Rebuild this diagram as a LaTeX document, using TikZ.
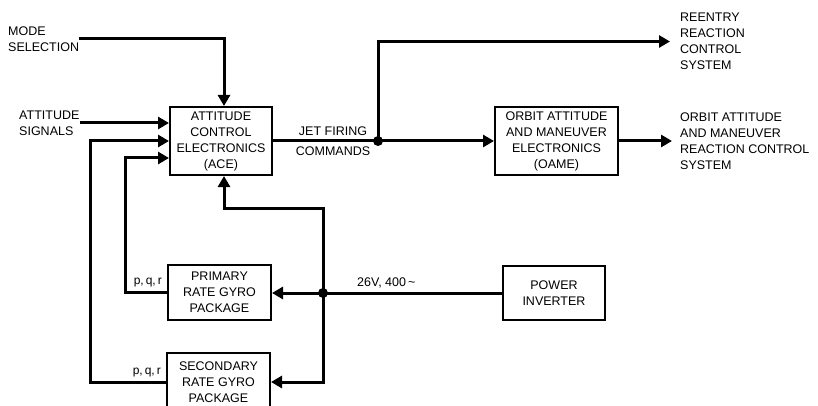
\documentclass[tikz,border=0pt]{standalone}
\usepackage{fontspec}
\setmainfont{Liberation Sans}
\usetikzlibrary{arrows.meta,positioning,calc}

\begin{document}
\begin{tikzpicture}[x=1pt,y=-1pt,
    box/.style={draw,line width=2pt,inner sep=0pt,align=center,font=\fontsize{12.5}{16}\selectfont},
    lbl/.style={inner sep=0pt,align=left,font=\fontsize{12.5}{16}\selectfont},
    pqr/.style={inner sep=0pt,font=\fontsize{12}{14}\selectfont},
    wire/.style={line width=3pt},
    sig/.style={wire,-{Triangle[length=11pt,width=12pt]}}]
    \useasboundingbox (0,0) rectangle (818,406);

    % blocks
    \node[box,minimum width=102pt,minimum height=68pt] (ace) at (221,141) {ATTITUDE\\CONTROL\\ELECTRONICS\\(ACE)};
    \node[box,minimum width=123pt,minimum height=68pt] (oame) at (556.5,141) {ORBIT ATTITUDE\\AND MANEUVER\\ELECTRONICS\\(OAME)};
    \node[box,minimum width=103pt,minimum height=55pt] (prim) at (219.5,292) {PRIMARY\\RATE GYRO\\PACKAGE};
    \node[box,minimum width=103pt,minimum height=58pt] (sec) at (218.5,382) {SECONDARY\\RATE GYRO\\PACKAGE};
    \node[box,minimum width=102pt,minimum height=54pt] (inv) at (554,293) {POWER\\INVERTER};

    % inputs and outputs
    \node[lbl,anchor=west] (mode) at (8,39) {MODE\\SELECTION};
    \node[lbl,anchor=west] (att) at (19,123) {ATTITUDE\\SIGNALS};
    \node[lbl,anchor=west] (rrcs) at (680,41.5) {REENTRY\\REACTION\\CONTROL\\SYSTEM};
    \node[lbl,anchor=west] (orcs) at (680,141) {ORBIT ATTITUDE\\AND MANEUVER\\REACTION CONTROL\\SYSTEM};

    % signal labels
    \node[lbl,anchor=south] (jet) at (333,136) {JET FIRING};
    \node[lbl,anchor=north] (cmd) at (333,147) {COMMANDS};
    \node[lbl,anchor=south west] (volt) at (357,288) {26V, 400\,\textasciitilde};
    \node[pqr,anchor=south east] (pqr1) at ([xshift=-5pt,yshift=5pt]prim.west) {p,\,q,\,r};
    \node[pqr,anchor=south east] (pqr2) at ([xshift=-5pt,yshift=5pt]sec.west) {p,\,q,\,r};

    % junctions
    \coordinate (jf) at (378,141);
    \coordinate (pj) at (323,293);

    % commands into the ACE
    \draw[sig] (mode.east) -| ([xshift=3pt]ace.north);
    \draw[sig] (att.east) -- (att.east -| ace.west);
    \draw[sig] (prim.west) -- ++(-42,0) |- ([yshift=-17pt]ace.west);
    \draw[sig] (sec.west) -- ++(-76,0) |- (ace.west);

    % jet firing commands
    \draw[wire] (ace.east) -- (jf);
    \draw[sig] (jf) |- ([xshift=-10pt]rrcs.west);
    \draw[sig] (jf) -- (oame.west);
    \draw[sig] (oame.east) -- ([xshift=-8pt]orcs.west);
    \fill (jf) circle (5pt);

    % 26V power
    \draw[wire] (inv.west) -- (pj);
    \draw[sig] (pj) -- (pj -| prim.east);
    \draw[sig] (pj) |- (sec.east);
    \draw[sig] (pj) -- ++(0,-85) -| ([xshift=3pt]ace.south);
    \fill (pj) circle (5pt);
\end{tikzpicture}
\end{document}
